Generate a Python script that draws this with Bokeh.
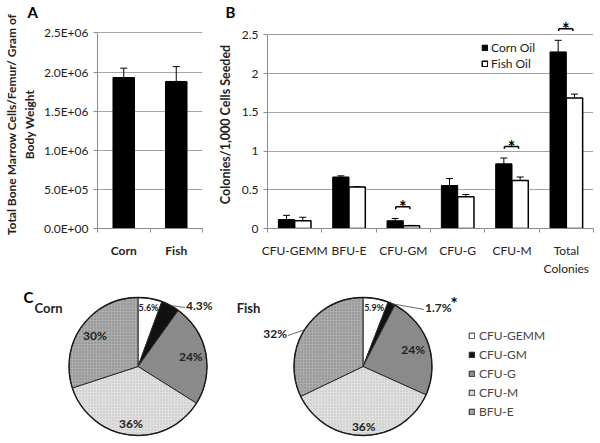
import math
from bokeh.plotting import figure
from bokeh.models import (FactorRange, Range1d, FixedTicker, Whisker, TeeHead,
                          ColumnDataSource, LinearAxis)
from bokeh.transform import dodge
from bokeh.layouts import column, row
from bokeh.embed import file_html
from bokeh.resources import INLINE
from bokeh.core.properties import value

# ---------------- data ----------------
# Panel A
A_GROUPS = ["Corn", "Fish"]
A_VALUES = [1.93e6, 1.88e6]
A_ERRORS = [0.12e6, 0.19e6]
A_TICKS = [0, 500000, 1000000, 1500000, 2000000, 2500000]
A_TICK_LABELS = ["0.0E+00", "5.0E+05", "1.0E+06", "1.5E+06", "2.0E+06", "2.5E+06"]

# Panel B
B_CATS = ["CFU-GEMM", "BFU-E", "CFU-GM", "CFU-G", "CFU-M", "Total Colonies"]
B_CAT_LABELS = ["CFU-GEMM", "BFU-E", "CFU-GM", "CFU-G", "CFU-M", "Total"]
B_CAT_LABELS_2 = ["", "", "", "", "", "Colonies"]
B_CORN = [0.115, 0.665, 0.10, 0.555, 0.835, 2.28]
B_CORN_ERR = [0.055, 0.015, 0.03, 0.09, 0.075, 0.15]
B_FISH = [0.10, 0.535, 0.035, 0.41, 0.62, 1.685]
B_FISH_ERR = [0.045, 0.005, 0.005, 0.03, 0.045, 0.05]
B_SIG = ["CFU-GM", "CFU-M", "Total Colonies"]
B_TICKS = [0, 0.5, 1, 1.5, 2, 2.5]

# Panel C
C_TYPES = ["CFU-GEMM", "CFU-GM", "CFU-G", "CFU-M", "BFU-E"]
C_CORN = [5.6, 4.3, 24, 36, 30]
C_FISH = [5.9, 1.7, 24, 36, 32]
C_CORN_LABELS = ["5.6%", "4.3%", "24%", "36%", "30%"]
C_FISH_LABELS = ["5.9%", "1.7%", "24%", "36%", "32%"]

# ---------------- styles ----------------
FONT = "Lato"
GRID = "#a6a6a6"
AXIS = "#8c8c8c"
TXT = "#222222"

C_FILL = ["#ffffff", "#111111", "#8a8a8a", "#e0e0e0", "#acacac"]
C_HATCH = [None, None, None, "dot", "dot"]
C_HATCH_COLOR = ["#000000", "#000000", "#000000", "#bcbcbc", "#7c7c7c"]

ROW_H = 278          # height of top row
FRAME_TOP = 20       # frame top (px from top)
FRAME_BOTTOM = 237   # frame bottom (px from top)


def base_style(p, letter, letter_offset):
    p.outline_line_color = None
    p.xgrid.visible = False
    p.ygrid.grid_line_color = GRID
    p.ygrid.grid_line_width = 1
    ax = p.yaxis[0]
    ax.axis_line_color = AXIS
    ax.major_label_text_font = FONT
    ax.major_label_text_color = TXT
    ax.major_label_text_font_size = "12px"
    ax.axis_label_text_font = FONT
    ax.axis_label_text_font_style = "bold"
    ax.axis_label_text_color = TXT
    ax.minor_tick_line_color = None
    ax.major_tick_line_color = AXIS
    ax.major_tick_in = 0
    ax.major_tick_out = 4
    p.title.text = letter
    p.title.align = "left"
    p.title.offset = letter_offset
    p.title.standoff = 0
    p.title.text_font = FONT
    p.title.text_font_style = "bold"
    p.title.text_font_size = "15px"
    p.title.text_color = "black"


def category_axis(p, n, labels, bold=False, standoff=10, boundary_ticks=True):
    centers = [i + 0.5 for i in range(n)]
    ticker = FixedTicker(ticks=centers, minor_ticks=list(range(n + 1)) if boundary_ticks else [])
    ax = LinearAxis(ticker=ticker)
    ax.major_label_overrides = {c: l for c, l in zip(centers, labels)}
    ax.axis_line_color = AXIS if boundary_ticks else None
    ax.major_tick_line_color = None
    ax.major_tick_in = 0
    ax.major_tick_out = 0
    ax.minor_tick_line_color = AXIS if boundary_ticks else None
    ax.minor_tick_in = 0
    ax.minor_tick_out = 4 if boundary_ticks else 0
    ax.major_label_standoff = standoff
    ax.major_label_text_font = FONT
    ax.major_label_text_font_size = "12px"
    ax.major_label_text_color = TXT
    if bold:
        ax.major_label_text_font_style = "bold"
    p.add_layout(ax, "below")
    return ax


# ---------------- Panel A ----------------
a_scale = 2.5e6 / 204.0
pa = figure(x_range=FactorRange(*A_GROUPS),
            y_range=Range1d(0, a_scale * (FRAME_BOTTOM - FRAME_TOP)),
            width=205, height=ROW_H, output_backend="svg", toolbar_location=None,
            x_axis_location=None,
            min_border_left=95, min_border_right=3, min_border_top=FRAME_TOP,
            min_border_bottom=ROW_H - FRAME_BOTTOM)
base_style(pa, "A", -70)
pa.yaxis.ticker = FixedTicker(ticks=A_TICKS)
pa.yaxis.bounds = (0, 2.5e6)
pa.yaxis.major_label_overrides = {t: l for t, l in zip(A_TICKS, A_TICK_LABELS)}
pa.yaxis.axis_label = "Total Bone Marrow Cells/Femur/ Gram of\nBody Weight"
pa.yaxis.axis_label_text_font_size = "12px"
pa.yaxis.axis_label_standoff = 4
pa.ygrid.ticker = FixedTicker(ticks=A_TICKS)
category_axis(pa, len(A_GROUPS), A_GROUPS, bold=True)

srcA = ColumnDataSource(dict(g=A_GROUPS, v=A_VALUES,
                             u=[v + e for v, e in zip(A_VALUES, A_ERRORS)],
                             l=[v - e for v, e in zip(A_VALUES, A_ERRORS)]))
pa.vbar(x="g", top="v", width=0.41, source=srcA, fill_color="black", line_color="black")
pa.add_layout(Whisker(base="g", upper="u", lower="l", source=srcA, line_color="black",
                      upper_head=TeeHead(size=7, line_color="black"),
                      lower_head=TeeHead(size=7, line_color="black")))

# ---------------- Panel B ----------------
b_scale = 2.5 / 202.0
pb = figure(x_range=FactorRange(*B_CATS),
            y_range=Range1d(0, b_scale * (FRAME_BOTTOM - FRAME_TOP)),
            width=395, height=ROW_H, output_backend="svg", toolbar_location=None,
            x_axis_location=None,
            min_border_left=62, min_border_right=7, min_border_top=FRAME_TOP,
            min_border_bottom=ROW_H - FRAME_BOTTOM)
base_style(pb, "B", -42)
pb.yaxis.ticker = FixedTicker(ticks=B_TICKS)
pb.ygrid.ticker = FixedTicker(ticks=B_TICKS)
pb.yaxis.bounds = (0, 2.5)
pb.yaxis.axis_label = "Colonies/1,000 Cells Seeded"
pb.yaxis.axis_label_text_font_size = "12.5px"
pb.yaxis.axis_label_standoff = 6
category_axis(pb, len(B_CATS), B_CAT_LABELS)
category_axis(pb, len(B_CATS), B_CAT_LABELS_2, standoff=0, boundary_ticks=False)

srcB = ColumnDataSource(dict(
    cat=B_CATS, corn=B_CORN, fish=B_FISH,
    cu=[v + e for v, e in zip(B_CORN, B_CORN_ERR)],
    cl=[v - e for v, e in zip(B_CORN, B_CORN_ERR)],
    fu=[v + e for v, e in zip(B_FISH, B_FISH_ERR)],
    fl=[v - e for v, e in zip(B_FISH, B_FISH_ERR)]))

pb.vbar(x=dodge("cat", -0.15, range=pb.x_range), top="corn", width=0.3, source=srcB,
        fill_color="black", line_color="black", legend_label="Corn Oil")
pb.vbar(x=dodge("cat", 0.15, range=pb.x_range), top="fish", width=0.3, source=srcB,
        fill_color="white", line_color="black", line_width=1.5, legend_label="Fish Oil")
for off, u, l in ((-0.15, "cu", "cl"), (0.15, "fu", "fl")):
    pb.add_layout(Whisker(base=dodge("cat", off, range=pb.x_range), upper=u, lower=l,
                          source=srcB, line_color="black", line_width=1,
                          upper_head=TeeHead(size=7, line_color="black"),
                          lower_head=TeeHead(size=7, line_color="black")))

# significance brackets
sig_idx = [B_CATS.index(c) for c in B_SIG]
tops = [max(B_CORN[i] + B_CORN_ERR[i], B_FISH[i] + B_FISH_ERR[i]) for i in sig_idx]
srcS = ColumnDataSource(dict(cat=B_SIG,
                             by=[t + 0.15 for t in tops],
                             bt=[t + 0.12 for t in tops],
                             sy=[t + 0.15 - 0.005 for t in tops],
                             star=["*"] * len(B_SIG)))
pb.segment(x0=dodge("cat", -0.14, range=pb.x_range), x1=dodge("cat", 0.12, range=pb.x_range),
           y0="by", y1="by", source=srcS, line_color="black", line_width=1.5)
for off in (-0.14, 0.12):
    pb.segment(x0=dodge("cat", off, range=pb.x_range), x1=dodge("cat", off, range=pb.x_range),
               y0="by", y1="bt", source=srcS, line_color="black", line_width=1.5)
pb.text(x=dodge("cat", -0.01, range=pb.x_range), y="sy", text="star", source=srcS,
        text_font=value(FONT), text_font_style="bold", text_font_size="18px",
        text_align="center", text_baseline="alphabetic", text_color="black")

lg = pb.legend[0]
lg.location = (214, 157)
lg.background_fill_alpha = 0
lg.border_line_color = None
lg.padding = 0
lg.margin = 0
lg.glyph_width = 7
lg.glyph_height = 7
lg.label_height = 10
lg.spacing = 1
lg.label_standoff = 3
lg.label_text_font = FONT
lg.label_text_font_size = "12px"
lg.label_text_color = TXT

# ---------------- Panel C ----------------
C_H = 443 - ROW_H
# data units equal pixels: x = page x, y = 443 - page y
pc = figure(x_range=Range1d(0, 600), y_range=Range1d(0, C_H), width=600, height=C_H,
            output_backend="svg", toolbar_location=None, min_border=0,
            x_axis_location=None, y_axis_location=None)
pc.outline_line_color = None
pc.grid.visible = False

R = 69
PIES = [
    (C_CORN, C_CORN_LABELS, (137.5, 77),
     [("in", 0.87), ("out", (47, 59)), ("in", 0.78), ("in", 0.83), ("in", 0.77)]),
    (C_FISH, C_FISH_LABELS, (362.5, 77),
     [("in", 0.87), ("out", (61, 57)), ("in", 0.77), ("in", 0.87), ("out", (-75, 31))]),
]

for k, (vals, labels, (cx, cy), place) in enumerate(PIES):
    total = sum(vals)
    cum = 0.0
    st, en, mid = [], [], []
    for v in vals:
        a0 = cum / total
        cum += v
        a1 = cum / total
        st.append(math.pi / 2 - 2 * math.pi * a1)
        en.append(math.pi / 2 - 2 * math.pi * a0)
        mid.append(math.pi / 2 - math.pi * (a0 + a1))
    src = ColumnDataSource(dict(name=C_TYPES, s=st, e=en, fill=C_FILL,
                                hatch=C_HATCH, hcol=C_HATCH_COLOR,
                                x=[cx] * len(vals), y=[cy] * len(vals)))
    kw = dict(x="x", y="y", radius=R, start_angle="s", end_angle="e", source=src,
              fill_color="fill", line_color="#2a2a2a", line_width=1,
              hatch_pattern="hatch", hatch_color="hcol", hatch_scale=3, hatch_weight=0.8)
    if k == 0:
        kw["legend_field"] = "name"
    pc.wedge(**kw)
    pc.circle(x=[cx], y=[cy], radius=R, fill_color=None, line_color="#1a1a1a", line_width=1.3)

    lx, ly, lt, lsz, la = [], [], [], [], []
    for i, (kind, par) in enumerate(place):
        if kind == "in":
            lx.append(cx + par * R * math.cos(mid[i]))
            ly.append(cy + par * R * math.sin(mid[i]))
            la.append("center")
        else:
            ax_, ay_ = cx + par[0], cy + par[1]
            ex, ey = cx + R * math.cos(mid[i]), cy + R * math.sin(mid[i])
            pc.line(x=[ex, ax_], y=[ey, ay_], line_color="#444444", line_width=0.8)
            lx.append(ax_ + (1 if par[0] > 0 else -1))
            ly.append(ay_ + 2)
            la.append("left" if par[0] > 0 else "right")
        lt.append(labels[i])
        lsz.append("9px" if i == 0 else "12px")
    pc.text(x=lx, y=ly, text=lt, text_font=value(FONT), text_font_style="bold",
            text_font_size=lsz, text_align=la, text_baseline="middle", text_color=TXT)

# significance star on fish CFU-GM
pc.text(x=[362.5 + 61 + 30], y=[77 + 57 + 6], text=["*"], text_font=value(FONT),
        text_font_style="bold", text_font_size="17px", text_align="center",
        text_baseline="alphabetic", text_color="black")

pc.text(x=[48, 248], y=[136, 136], text=["Corn", "Fish"], text_font=value(FONT),
        text_font_style="bold", text_font_size="13px", text_align="center",
        text_baseline="middle", text_color=TXT)
pc.text(x=[23], y=[156], text=["C"], text_font=value(FONT), text_font_style="bold",
        text_font_size="15px", text_align="left", text_baseline="top", text_color="black")

lc = pc.legend[0]
lc.location = (468, 24)
lc.background_fill_alpha = 0
lc.border_line_color = None
lc.padding = 0
lc.margin = 0
lc.glyph_width = 7
lc.glyph_height = 7
lc.label_height = 12
lc.spacing = 4
lc.label_standoff = 4
lc.label_text_font = FONT
lc.label_text_font_size = "12px"
lc.label_text_color = "#444444"

layout = column(row(pa, pb), pc)
open("out.html", "w").write(file_html(layout, INLINE))
